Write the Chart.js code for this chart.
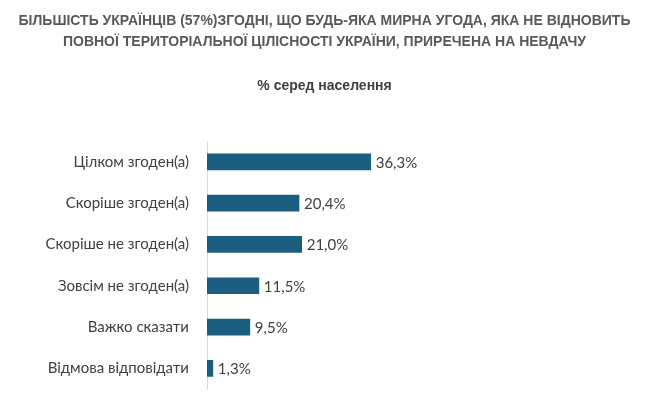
<!DOCTYPE html>
<html>
<head>
<meta charset="utf-8">
<script src="https://cdn.jsdelivr.net/npm/chart.js@4"></script>
<style>
  html, body { margin: 0; padding: 0; background: #fff; overflow: hidden; }
  canvas { display: block; }
</style>
</head>
<body>
<canvas id="grafik" width="649" height="408"></canvas>
<script>
// дані
const kategorii = ['Цілком згоден(а)', 'Скоріше згоден(а)', 'Скоріше не згоден(а)', 'Зовсім не згоден(а)', 'Важко сказати', 'Відмова відповідати'];
const znachennia = [36.3, 20.4, 21.0, 11.5, 9.5, 1.3];
const zagolovok = ['БІЛЬШІСТЬ УКРАЇНЦІВ (57%)ЗГОДНІ, ЩО БУДЬ-ЯКА МИРНА УГОДА, ЯКА НЕ ВІДНОВИТЬ', 'ПОВНОЇ ТЕРИТОРІАЛЬНОЇ ЦІЛІСНОСТІ УКРАЇНИ, ПРИРЕЧЕНА НА НЕВДАЧУ'];
const pidzagolovok = '% серед населення';

const textFont = 'Lato, "Open Sans", sans-serif';

// підписи значень праворуч від стовпчиків
const valueLabels = {
  id: 'valueLabels',
  afterDatasetsDraw(chart) {
    const ctx = chart.ctx;
    const meta = chart.getDatasetMeta(0);
    ctx.save();
    ctx.font = '15px ' + textFont;
    ctx.fillStyle = '#404040';
    ctx.textAlign = 'left';
    ctx.textBaseline = 'middle';
    meta.data.forEach((bar, i) => {
      const txt = znachennia[i].toFixed(1).replace('.', ',') + '%';
      ctx.fillText(txt, bar.x + 5, bar.y + 1);
    });
    ctx.restore();
  }
};

grafik = document.getElementById('grafik');
new Chart(grafik, {
  type: 'bar',
  data: {
    labels: kategorii,
    datasets: [{
      data: znachennia,
      backgroundColor: '#1b5e80',
      barThickness: 16
    }]
  },
  options: {
    indexAxis: 'y',
    responsive: false,
    animation: false,
    layout: {
      autoPadding: false,
      padding: { top: 10, right: 0, bottom: 4, left: 0 }
    },
    plugins: {
      legend: { display: false },
      tooltip: { enabled: false },
      title: {
        display: true,
        text: zagolovok,
        color: '#595959',
        font: { family: '"Liberation Sans", Arial, sans-serif', size: 14, weight: 'bold', lineHeight: 1.55 },
        padding: { top: 0, bottom: 24 }
      },
      subtitle: {
        display: true,
        text: pidzagolovok,
        color: '#404040',
        font: { family: '"Liberation Sans", Arial, sans-serif', size: 14, weight: 'bold', lineHeight: 1.2 },
        padding: { top: 0, bottom: 47 }
      }
    },
    scales: {
      x: {
        display: false,
        min: 0,
        max: 98
      },
      y: {
        afterFit(scale) { scale.width = 207; },
        grid: { display: false },
        border: { display: true, color: '#d9d9d9', width: 1 },
        ticks: {
          color: '#404040',
          padding: 10,
          font: { family: textFont, size: 15 }
        }
      }
    }
  },
  plugins: [valueLabels]
});
</script>
</body>
</html>
